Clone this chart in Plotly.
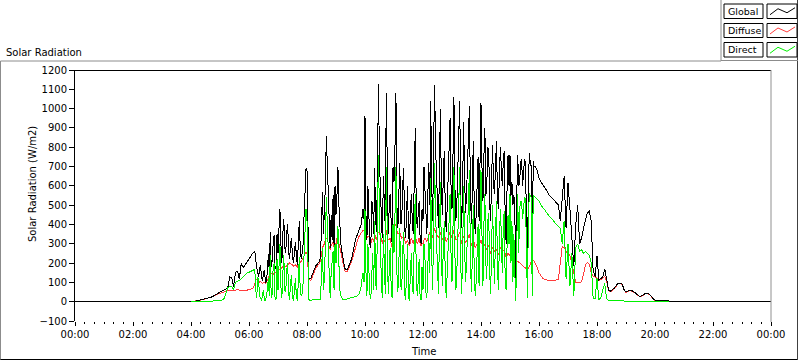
import pandas as pd
import plotly.graph_objects as go

# ---------------- data (W/m2) ----------------
# segment A: 04:00-06:12 every 4 min, segment B: 06:14-15:58 every 2 min,
# segment C: 16:00-20:28 every 4 min
SEG_A = ("2020-01-01 04:00", "4min")
SEG_B = ("2020-01-01 06:14", "2min")
SEG_C = ("2020-01-01 16:00", "4min")

global_a = [
    0, 1, 3, 4, 6, 8, 10, 13, 15, 18, 22, 26, 30, 38, 44,
    49, 53, 60, 64, 70, 128, 126, 78, 150, 160, 118, 198, 178, 190, 205,
    225, 240, 252, 262,
]
diffuse_a = [
    0, 1, 3, 4, 6, 8, 10, 13, 15, 18, 22, 26, 30, 36, 40,
    44, 48, 52, 55, 57, 58, 58, 56, 60, 62, 60, 58, 57, 58, 60,
    62, 64, 68, 90,
]
direct_a = [
    0, 0, 0, 0, 1, 1, 1, 2, 2, 2, 3, 3, 4, 4, 5,
    5, 8, 15, 40, 72, 79, 80, 60, 100, 105, 110, 120, 130, 140, 150,
    152, 158, 164, 168,
]

global_b = [
    200, 175, 150, 130, 175, 190, 120, 110, 150, 165, 100, 105, 160, 245, 150, 360, 180, 210, 300, 345, 170, 180, 350,
    250, 380, 480, 300, 200, 350, 430, 280, 250, 360, 400, 260, 220, 300, 330, 230, 200, 260, 310, 240, 190, 300, 420, 280, 220, 250, 300, 450, 620, 690,
    680, 300, 125, 118, 120, 135, 150, 165, 180, 185, 190, 195, 200, 210, 230, 380, 570, 350, 480, 600, 860, 700, 520, 400, 280, 450, 320, 550, 290, 600,
    450, 550, 700, 500, 350, 300, 261, 225, 192, 175, 166, 165, 170, 180, 192, 205, 220, 240, 260, 290, 320, 335, 350, 360, 370, 385, 400, 440, 480, 430,
    960, 450, 320, 600, 450, 300, 280, 520, 500, 350, 690, 420, 360, 800, 1125, 700, 600, 400, 330, 650, 520, 380, 1080, 600, 350, 480, 560, 420, 300, 700,
    620, 800, 1080, 500, 380, 550, 720, 400, 420, 600, 690, 380, 330, 450, 600, 350, 300, 480, 560, 400, 350, 650, 900, 500, 380, 450, 520, 330, 300, 480,
    420, 700, 580, 400, 350, 550, 720, 500, 1040, 600, 420, 800, 1120, 800, 650, 450, 380, 700, 1000, 600, 450, 650, 780, 500, 360, 480, 620, 800, 950, 600,
    480, 750, 1060, 600, 420, 500, 650, 800, 1040, 550, 380, 600, 930, 650, 460, 550, 700, 850, 1015, 600, 400, 560, 830, 500, 350, 450, 600, 750, 420, 800,
    1030, 700, 520, 750, 900, 550, 600, 800, 780, 500, 420, 650, 810, 600, 560, 700, 830, 550, 480, 650, 800, 700, 600, 720, 780, 450, 300, 600, 760, 600,
    760, 550, 620, 500, 550, 480, 30, 550, 760, 600, 620, 720, 740, 600, 700, 740, 720, 400, 150, 600, 770, 720, 700, 150, 730, 700, 700, 690, 680, 660,
]
diffuse_b = [
    118, 116, 114, 100, 102, 105, 98, 95, 97, 100, 96, 98, 110, 130, 135, 145, 148, 150, 145, 140, 150, 155, 158,
    160, 165, 170, 172, 175, 180, 185, 182, 180, 185, 190, 195, 200, 198, 195, 190, 185, 188, 190, 185, 180, 190, 200, 205, 210, 220, 230, 240, 250, 255,
    250, 180, 115, 112, 112, 122, 135, 150, 165, 172, 180, 185, 190, 200, 215, 250, 280, 290, 300, 320, 330, 320, 300, 285, 270, 290, 300, 310, 280, 300,
    300, 330, 320, 300, 290, 260, 230, 200, 175, 162, 155, 155, 160, 170, 180, 192, 205, 222, 240, 265, 290, 305, 320, 330, 340, 348, 355, 362, 370, 370,
    370, 350, 330, 340, 340, 320, 300, 320, 330, 310, 350, 330, 320, 350, 360, 350, 340, 320, 300, 330, 310, 320, 370, 340, 320, 320, 330, 300, 280, 330,
    380, 390, 400, 370, 350, 355, 360, 340, 330, 335, 340, 320, 300, 310, 320, 300, 290, 310, 330, 315, 300, 330, 350, 320, 300, 310, 330, 300, 290, 300,
    300, 320, 330, 320, 310, 325, 340, 350, 370, 350, 330, 360, 380, 360, 350, 340, 330, 345, 360, 340, 320, 330, 340, 330, 310, 320, 330, 345, 360, 340,
    330, 350, 370, 340, 320, 325, 330, 345, 360, 330, 300, 320, 340, 320, 310, 315, 320, 335, 350, 320, 290, 310, 330, 300, 280, 290, 300, 310, 290, 310,
    320, 300, 280, 290, 300, 280, 270, 285, 290, 270, 250, 265, 280, 270, 260, 265, 270, 255, 240, 260, 280, 270, 260, 265, 270, 250, 230, 240, 250, 245,
    240, 235, 230, 225, 220, 210, 200, 205, 210, 205, 200, 195, 190, 185, 180, 175, 170, 168, 165, 170, 180, 195, 210, 212, 215, 208, 200, 190, 180, 165,
]
direct_b = [
    60, 20, 130, 100, 30, 10, 5, 40, 60, 5, 8, 30, 60, 120, 30, 240, 20, 40, 180, 200, 10, 15, 220,
    60, 200, 300, 80, 20, 150, 240, 60, 50, 160, 200, 40, 10, 100, 140, 20, 5, 60, 120, 30, 5, 100, 230, 60, 30, 40, 100, 250, 420, 480,
    420, 100, 10, 8, 8, 8, 8, 8, 8, 9, 10, 10, 10, 11, 12, 120, 280, 60, 120, 300, 540, 400, 260, 100, 20, 150, 200, 260, 60, 300,
    200, 300, 390, 200, 60, 30, 15, 12, 10, 10, 12, 12, 15, 16, 18, 19, 20, 21, 22, 24, 25, 28, 30, 35, 40, 60, 80, 120, 150, 100,
    480, 150, 30, 300, 160, 40, 15, 200, 250, 60, 420, 100, 60, 500, 760, 420, 300, 80, 20, 350, 220, 40, 700, 300, 40, 150, 280, 90, 20, 400,
    250, 450, 700, 150, 50, 200, 380, 80, 60, 260, 360, 40, 10, 150, 300, 30, 5, 160, 250, 70, 40, 350, 560, 160, 30, 100, 220, 20, 10, 180,
    60, 300, 230, 50, 20, 180, 350, 150, 640, 250, 60, 420, 720, 450, 280, 80, 40, 330, 620, 250, 80, 280, 420, 150, 20, 140, 300, 420, 560, 250,
    100, 380, 700, 250, 60, 150, 330, 450, 700, 200, 40, 250, 600, 300, 100, 200, 380, 500, 680, 250, 50, 220, 500, 150, 30, 100, 280, 400, 80, 450,
    680, 350, 80, 400, 560, 200, 120, 420, 460, 150, 40, 300, 500, 250, 90, 350, 520, 200, 60, 300, 480, 350, 150, 380, 470, 120, 60, 300, 450, 300,
    560, 200, 420, 100, 350, 150, 5, 300, 560, 250, 480, 520, 520, 430, 500, 540, 530, 250, 20, 430, 560, 550, 540, 30, 550, 545, 540, 535, 530, 525,
]

global_c = [
    640, 620, 606, 590, 575, 555, 545, 535, 520, 510, 502, 420, 560, 650, 380,
    615, 480, 300, 183, 400, 500, 300, 330, 380, 420, 460, 468, 420, 160, 130,
    235, 114, 120, 130, 170, 110, 60, 55, 62, 70, 85, 95, 97, 92, 62,
    50, 55, 60, 58, 52, 45, 35, 28, 30, 38, 42, 44, 40, 30, 15,
    8, 5, 5, 5, 5, 5, 5, 4,
]
diffuse_c = [
    150, 135, 120, 115, 112, 110, 108, 108, 110, 112, 115, 200, 286, 280, 260,
    250, 240, 200, 150, 100, 97, 97, 105, 140, 190, 202, 195, 150, 130, 128,
    120, 110, 115, 125, 130, 105, 58, 52, 58, 66, 82, 92, 94, 88, 60,
    48, 52, 57, 55, 50, 43, 33, 27, 28, 36, 40, 42, 38, 28, 14,
    7, 4, 4, 4, 4, 4, 4, 3,
]
direct_c = [
    520, 500, 490, 475, 460, 445, 435, 425, 410, 400, 390, 380, 300, 420, 120,
    300, 80, 250, 30, 280, 300, 260, 270, 250, 260, 250, 240, 200, 20, 15,
    120, 10, 20, 60, 95, 15, 5, 4, 4, 4, 4, 4, 4, 4, 4,
    4, 4, 4, 4, 4, 4, 4, 4, 4, 4, 4, 4, 4, 4, 4,
    3, 2, 2, 2, 2, 2, 2, 2,
]

# global radiation is logged as zero through the night
night_before_times = ["2020-01-01 00:00"]
night_before_values = [0]
night_after_times = ["2020-01-01 20:32", "2020-01-02 00:00"]
night_after_values = [0, 0]

tick_times = ["2020-01-01 %02d:00" % h for h in range(0, 24, 2)] + ["2020-01-02 00:00"]
tick_labels = ["00:00", "02:00", "04:00", "06:00", "08:00", "10:00", "12:00",
               "14:00", "16:00", "18:00", "20:00", "22:00", "00:00"]
series_names = ["Global", "Diffuse", "Direct"]
series_colors = ["#000000", "#ff3c3c", "#00f000"]

# ---------------- figure ----------------
times = (list(pd.date_range(SEG_A[0], periods=len(global_a), freq=SEG_A[1]))
         + list(pd.date_range(SEG_B[0], periods=len(global_b), freq=SEG_B[1]))
         + list(pd.date_range(SEG_C[0], periods=len(global_c), freq=SEG_C[1])))
global_rad = global_a + global_b + global_c
diffuse_rad = diffuse_a + diffuse_b + diffuse_c
direct_rad = direct_a + direct_b + direct_c

g_x = list(pd.to_datetime(night_before_times)) + times + list(pd.to_datetime(night_after_times))
g_y = night_before_values + global_rad + night_after_values

FONT = "DejaVu Sans"
fig = go.Figure()
fig.add_trace(go.Scatter(x=times, y=diffuse_rad, mode="lines", name=series_names[1],
                         line=dict(color=series_colors[1], width=1)))
fig.add_trace(go.Scatter(x=g_x, y=g_y, mode="lines", name=series_names[0],
                         line=dict(color=series_colors[0], width=1)))
fig.add_trace(go.Scatter(x=times, y=direct_rad, mode="lines", name=series_names[2],
                         line=dict(color=series_colors[2], width=1)))

L, R, T, B = 75, 771, 70, 321


def px(x):
    return (x - L) / (R - L)


def py(y):
    return (B - y) / (B - T)


shapes = []


def line(x0, y0, x1, y1, color, w=1):
    shapes.append(dict(type="line", xref="paper", yref="paper",
                       x0=px(x0), y0=py(y0), x1=px(x1), y1=py(y1),
                       line=dict(color=color, width=w)))


# outer frame
line(0.5, 61, 721, 61, "#8c8c8c")
line(0.5, 61, 0.5, 360, "#8c8c8c")
line(0.5, 359.5, 798, 359.5, "#000000")
line(797.5, 0, 797.5, 360, "#404040")
# legend panel border
line(721, 0, 721, 61, "#8c8c8c")
line(721, 60.5, 798, 60.5, "#8c8c8c")
# plot area borders
line(74, 70.5, 771, 70.5, "#000000")
line(771, 70, 771, 322, "#909090")

annotations = []
legend_rows = [(4, 18.5), (23.5, 37.5), (42.5, 57)]
for (y0, y1), name, color in zip(legend_rows, series_names, series_colors):
    shapes.append(dict(type="rect", xref="paper", yref="paper",
                       x0=px(724), x1=px(763), y0=py(y1), y1=py(y0),
                       line=dict(color="black", width=1), fillcolor="white"))
    shapes.append(dict(type="rect", xref="paper", yref="paper",
                       x0=px(767), x1=px(797), y0=py(y1), y1=py(y0),
                       line=dict(color="black", width=1), fillcolor="white"))
    ym = (y0 + y1) / 2
    path = "M %f,%f L %f,%f L %f,%f L %f,%f" % (
        px(770), py(ym + 3.5), px(778), py(ym - 2.5), px(787), py(ym + 1.5), px(795), py(ym - 3.5))
    shapes.append(dict(type="path", xref="paper", yref="paper", path=path,
                       line=dict(color=color, width=1)))
    annotations.append(dict(text=name, xref="paper", yref="paper", x=px(725.5), y=py(ym),
                            xanchor="left", yanchor="middle", showarrow=False,
                            font=dict(family=FONT, size=9.5, color="black")))

annotations.append(dict(text="Solar Radiation", xref="paper", yref="paper", x=px(4), y=py(52),
                        xanchor="left", yanchor="middle", showarrow=False,
                        font=dict(family=FONT, size=10, color="black")))
annotations.append(dict(text="Time", xref="paper", yref="paper", x=px(423), y=py(351),
                        xanchor="center", yanchor="middle", showarrow=False,
                        font=dict(family=FONT, size=10, color="black")))
annotations.append(dict(text="Solar Radiation (W/m2)", xref="paper", yref="paper", x=px(32),
                        y=py(184), xanchor="center", yanchor="middle", textangle=-90,
                        showarrow=False, font=dict(family=FONT, size=10, color="black")))

fig.update_layout(
    width=800, height=361,
    margin=dict(l=L, r=800 - R, t=T, b=361 - B),
    paper_bgcolor="white", plot_bgcolor="white",
    showlegend=False, hovermode=False,
    font=dict(family=FONT, size=10, color="black"),
    shapes=shapes, annotations=annotations,
    xaxis=dict(type="date", range=["2020-01-01 00:00", "2020-01-02 00:00"],
               tickmode="array", tickvals=tick_times, ticktext=tick_labels,
               ticks="outside", ticklen=4, tickcolor="black", tickwidth=1,
               showgrid=False, zeroline=False, showline=False,
               tickfont=dict(family=FONT, size=10, color="black"),
               minor=dict(ticks="outside", ticklen=2, tickcolor="black",
                          dtick=20 * 60 * 1000, tick0="2020-01-01 00:00", showgrid=False)),
    yaxis=dict(range=[-100, 1200], dtick=100, tick0=0,
               ticks="outside", ticklen=5, tickcolor="black", tickwidth=1,
               showgrid=False, zeroline=False, showline=True, linecolor="black", linewidth=1,
               tickfont=dict(family=FONT, size=10, color="black")),
)

post = (
    "document.body.style.margin='0';"
    "document.body.style.overflow='hidden';"
    "document.querySelectorAll('.scatterlayer path.js-line').forEach(function(p){"
    "p.style.shapeRendering='crispEdges';});"
)
fig.write_html("out.html", post_script=post, config={"displayModeBar": False})
